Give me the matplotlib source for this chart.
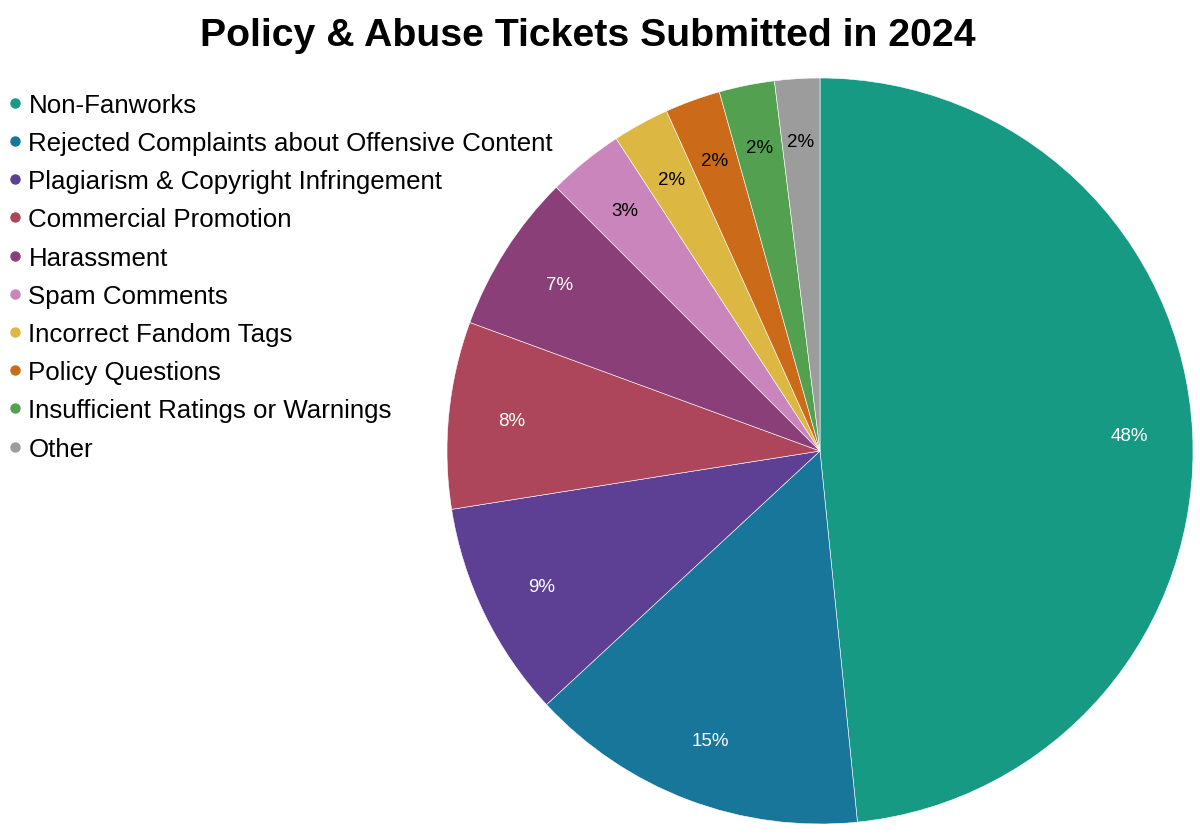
import matplotlib.pyplot as plt
from matplotlib.lines import Line2D

plt.rcParams["font.family"] = ["Liberation Sans", "DejaVu Sans"]

categories = [
    "Non-Fanworks",
    "Rejected Complaints about Offensive Content",
    "Plagiarism & Copyright Infringement",
    "Commercial Promotion",
    "Harassment",
    "Spam Comments",
    "Incorrect Fandom Tags",
    "Policy Questions",
    "Insufficient Ratings or Warnings",
    "Other",
]
shares = [48.4, 14.7, 9.4, 8.1, 6.9, 3.3, 2.45, 2.4, 2.4, 1.95]
colors = ["#169a84", "#17769a", "#5d3f93", "#ad455b", "#8a3f79",
          "#c985bc", "#dcb843", "#cb6b1a", "#53a150", "#9c9c9c"]
label_colors = ["white"] * 5 + ["black"] * 5

fig = plt.figure(figsize=(12, 8.37), dpi=100)
ax = fig.add_axes([447 / 1200, 12 / 837, 746 / 1200, 746 / 837])

wedges, _, autotexts = ax.pie(
    shares, colors=colors, startangle=90, counterclock=False,
    autopct="%1.0f%%", pctdistance=0.83, radius=1.0,
    wedgeprops=dict(edgecolor="white", linewidth=0.4),
    textprops=dict(fontsize=13.5),
)
for t, c in zip(autotexts, label_colors):
    t.set_color(c)
ax.set_xlim(-1, 1)
ax.set_ylim(-1, 1)
ax.set_aspect("equal")

handles = [Line2D([], [], marker="o", linestyle="", markersize=6.5,
                  markerfacecolor=c, markeredgecolor=c) for c in colors]
fig.legend(handles, categories, loc="upper left",
           bbox_to_anchor=(0.0, 1 - 86 / 837), frameon=False,
           fontsize=18.6, handlelength=0.55, handletextpad=0.25,
           labelspacing=0.55, borderaxespad=0, borderpad=0.3)

fig.text(0.49, 1 - 36 / 837, "Policy & Abuse Tickets Submitted in 2024",
         ha="center", va="center", fontsize=28.3, fontweight="bold")

fig.savefig("out.png", dpi=100)
plt.close(fig)
